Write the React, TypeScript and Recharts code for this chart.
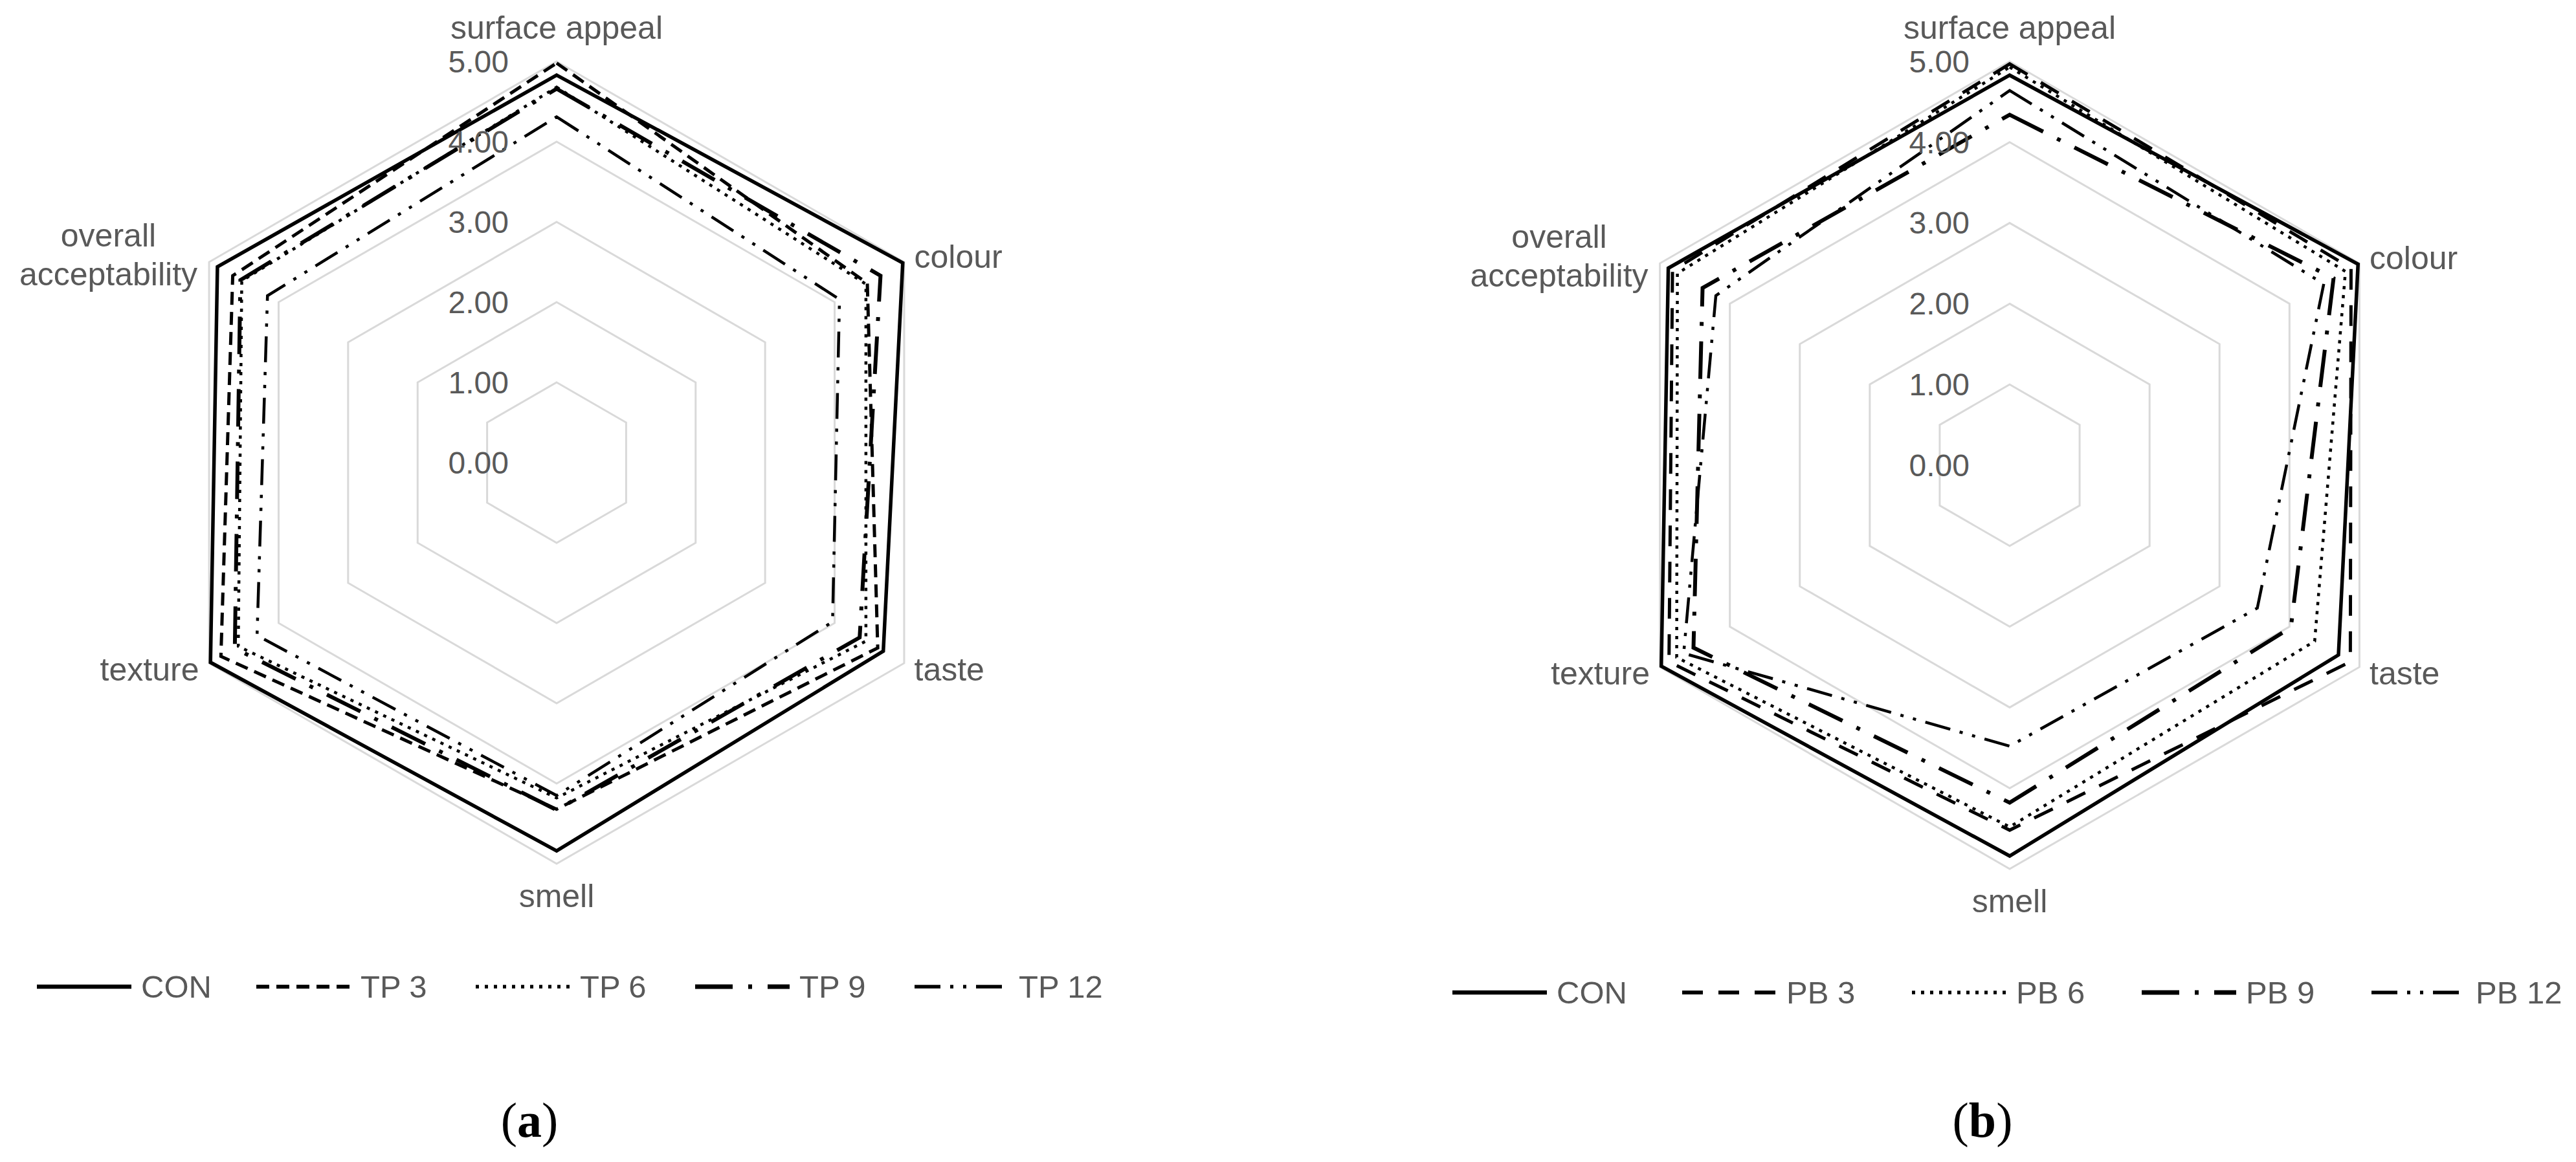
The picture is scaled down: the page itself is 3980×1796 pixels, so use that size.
import {
  RadarChart,
  Radar,
  PolarGrid,
  PolarAngleAxis,
  PolarRadiusAxis,
  Legend,
} from 'recharts';

// sensory attributes, clockwise from the top
const attributes = ['surface appeal', 'colour', 'taste', 'smell', 'texture', 'overall acceptability'];

// control sample (same in both panels)
const conScores = [4.83, 4.98, 4.7, 4.84, 4.98, 4.88];

// panel (a)
const tp3Scores = [4.98, 4.47, 4.62, 4.32, 4.83, 4.66];
const tp6Scores = [4.68, 4.45, 4.45, 4.18, 4.58, 4.53];
const tp9Scores = [4.66, 4.66, 4.36, 4.33, 4.63, 4.55];
const tp12Scores = [4.31, 4.07, 3.97, 4.15, 4.31, 4.16];

// panel (b)
const pb3Scores = [4.97, 4.88, 4.87, 4.52, 4.87, 4.82];
const pb6Scores = [4.93, 4.8, 4.36, 4.48, 4.76, 4.75];
const pb9Scores = [4.34, 4.63, 4.02, 4.18, 4.52, 4.39];
const pb12Scores = [4.64, 4.49, 3.54, 3.48, 4.66, 4.2];

const scoreDomain: [number, number] = [0, 5];

const SANS = '"Liberation Sans", Arial, sans-serif';
const SERIF = '"Liberation Serif", "Times New Roman", serif';
const LABEL_GREY = '#595959';

interface SeriesStyle {
  name: string;
  values: number[];
  width: number;
  dash?: string;
}

const seriesA: SeriesStyle[] = [
  { name: 'CON', values: conScores, width: 5.5 },
  { name: 'TP 3', values: tp3Scores, width: 5, dash: '20 11' },
  { name: 'TP 6', values: tp6Scores, width: 4.5, dash: '5 9' },
  { name: 'TP 9', values: tp9Scores, width: 6, dash: '58 24 6 24' },
  { name: 'TP 12', values: tp12Scores, width: 4.5, dash: '40 15 5 15 5 15' },
];

const seriesB: SeriesStyle[] = [
  { name: 'CON', values: conScores, width: 5.5 },
  { name: 'PB 3', values: pb3Scores, width: 5, dash: '32 24' },
  { name: 'PB 6', values: pb6Scores, width: 4.5, dash: '5 9' },
  { name: 'PB 9', values: pb9Scores, width: 6, dash: '58 24 6 24' },
  { name: 'PB 12', values: pb12Scores, width: 4.5, dash: '40 15 5 15 5 15' },
];

const buildRows = (series: SeriesStyle[]) =>
  attributes.map((attribute, i) => {
    const row: Record<string, string | number> = { attribute };
    series.forEach((s) => {
      row[s.name] = s.values[i];
    });
    return row;
  });

interface PanelProps {
  series: SeriesStyle[];
  left: number;
  cx: number;
  cy: number;
  radius: number;
  tickOffset: number;
  legendLeft: number;
  legendTop: number;
  legendPitch: number;
  caption: string;
}

function SensoryRadar({
  series,
  left,
  cx,
  cy,
  radius,
  tickOffset,
  legendLeft,
  legendTop,
  legendPitch,
  caption,
}: PanelProps) {
  const data = buildRows(series);

  const renderAngleTick = (props: any) => {
    const { x, y, payload, textAnchor } = props;
    const label = String(payload.value);
    const common = { fontFamily: SANS, fontSize: 50, fill: LABEL_GREY };

    if (label.length > 15) {
      // long label wraps onto two centred lines
      const [first, ...rest] = label.split(' ');
      return (
        <text x={x - 140} y={y} textAnchor="middle" {...common}>
          <tspan x={x - 140} dy={-15}>{first}</tspan>
          <tspan x={x - 140} dy={60}>{rest.join(' ')}</tspan>
        </text>
      );
    }
    if (Math.abs(x - cx) < 1) {
      const dy = y < cy ? -17 : 49;
      return (
        <text x={x} y={y} dy={dy} textAnchor="middle" {...common}>
          {label}
        </text>
      );
    }
    return (
      <text x={x} y={y} dy="0.35em" textAnchor={textAnchor} {...common}>
        {label}
      </text>
    );
  };

  const renderRadiusTick = (props: any) => {
    const { x, y, payload } = props;
    return (
      <text
        x={x - tickOffset}
        y={y}
        dy="0.35em"
        textAnchor="end"
        fontFamily={SANS}
        fontSize={48}
        fill={LABEL_GREY}
      >
        {Number(payload.value).toFixed(2)}
      </text>
    );
  };

  // keep the legend in series order (Recharts sorts by name otherwise)
  const renderLegend = (props: any) => {
    const payload: any[] = props.payload || [];
    return (
      <div style={{ display: 'flex' }}>
        {series
          .filter((s) => payload.some((entry) => entry.value === s.name))
          .map((s) => (
            <div
              key={s.name}
              style={{ width: legendPitch, display: 'flex', alignItems: 'center' }}
            >
              <svg width={146} height={20}>
                <line
                  x1={0}
                  y1={10}
                  x2={146}
                  y2={10}
                  stroke="#000"
                  strokeWidth={s.width + 1}
                  strokeDasharray={s.dash}
                />
              </svg>
              <span
                style={{
                  marginLeft: 15,
                  fontFamily: SANS,
                  fontSize: 49,
                  color: LABEL_GREY,
                  lineHeight: '60px',
                }}
              >
                {s.name}
              </span>
            </div>
          ))}
      </div>
    );
  };

  return (
    <div style={{ position: 'absolute', left, top: 0, width: 1990, height: 1796 }}>
      <RadarChart
        width={1990}
        height={1660}
        data={data}
        cx={cx}
        cy={cy}
        outerRadius={radius}
        margin={{ top: 0, right: 0, bottom: 0, left: 0 }}
      >
        <PolarGrid gridType="polygon" radialLines={false} stroke="#d9d9d9" strokeWidth={3} />
        <PolarAngleAxis
          dataKey="attribute"
          tick={renderAngleTick}
          tickLine={false}
          axisLine={false}
          tickSize={18}
        />
        <PolarRadiusAxis
          angle={90}
          type="number"
          domain={scoreDomain}
          tickCount={6}
          axisLine={false}
          tick={renderRadiusTick}
        />
        {series.map((s) => (
          <Radar
            key={s.name}
            name={s.name}
            dataKey={s.name}
            stroke="#000"
            strokeWidth={s.width}
            strokeDasharray={s.dash}
            fill="none"
            fillOpacity={0}
            dot={false}
            isAnimationActive={false}
          />
        ))}
        <Legend
          content={renderLegend}
          itemSorter={null as any}
          wrapperStyle={{
            left: legendLeft,
            top: legendTop,
            bottom: 'auto',
            width: 1900,
            height: 60,
          }}
        />
      </RadarChart>
      <div
        style={{
          position: 'absolute',
          left: cx - 42 - 100,
          top: 1693,
          width: 200,
          textAlign: 'center',
          fontFamily: SERIF,
          fontSize: 76,
          lineHeight: '76px',
          color: '#000',
        }}
      >
        (<b>{caption}</b>)
      </div>
    </div>
  );
}

export default function App() {
  return (
    <div
      style={{
        position: 'absolute',
        left: 0,
        top: 0,
        width: 3980,
        height: 1796,
        background: '#fff',
        overflow: 'hidden',
      }}
    >
      <SensoryRadar
        series={seriesA}
        left={0}
        cx={860}
        cy={715}
        radius={620}
        tickOffset={74}
        legendLeft={57}
        legendTop={1495}
        legendPitch={339}
        caption="a"
      />
      <SensoryRadar
        series={seriesB}
        left={1990}
        cx={1115}
        cy={719}
        radius={624}
        tickOffset={62}
        legendLeft={254}
        legendTop={1504}
        legendPitch={355}
        caption="b"
      />
    </div>
  );
}
